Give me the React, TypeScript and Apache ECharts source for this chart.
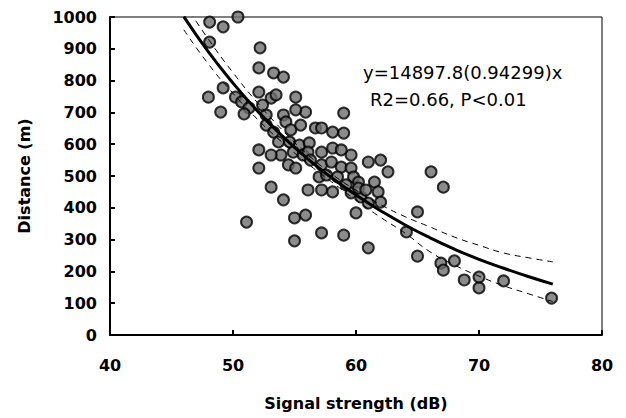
import React, { useEffect, useRef } from "react";
import * as echarts from "echarts";

// Observed points: [signal strength (dB), distance (m)]
const signalDb: number[] = [
  48.1, 49.2, 50.4, 48.1, 52.2, 52.1, 53.3, 54.1, 49.2, 48.0,
  49.0, 50.2, 50.7, 51.3, 52.1, 53.1, 53.5, 55.1, 55.9, 54.1,
  54.3, 52.7, 52.7, 53.3, 53.7, 54.6, 55.4, 56.2, 53.9, 54.9,
  55.7, 54.5, 55.1, 52.1, 53.1, 52.1, 53.1, 56.7, 59.0, 57.2,
  58.1, 59.0, 56.1, 57.2, 58.1, 59.6, 61.0, 62.0, 62.6, 57.2,
  58.0, 58.8, 59.6, 57.0, 58.5, 59.8, 60.2, 61.5, 61.8, 56.1,
  57.2, 58.1, 59.6, 60.4, 61.0, 62.0, 60.2, 60.0, 54.1, 51.1,
  55.0, 55.9, 55.0, 57.2, 59.0, 61.0, 65.0, 64.1, 65.0, 66.1,
  67.1, 66.9, 67.1, 68.0, 68.8, 70.0, 70.0, 72.0, 75.9, 50.9,
  52.4, 54.7, 55.5, 56.3, 57.6, 59.2, 60.8, 58.8, 55.1,
];
const distanceM: number[] = [
  984, 969, 1000, 921, 903, 840, 824, 811, 777, 748,
  701, 748, 733, 714, 764, 745, 755, 748, 701, 692,
  670, 692, 660, 638, 607, 607, 597, 604, 566, 575,
  566, 535, 525, 582, 566, 525, 465, 651, 698, 651,
  638, 635, 575, 575, 588, 566, 544, 550, 513, 535,
  544, 528, 525, 497, 497, 497, 481, 481, 450, 456,
  456, 450, 447, 434, 415, 418, 462, 384, 425, 355,
  368, 377, 296, 321, 314, 274, 387, 324, 248, 513,
  465, 226, 204, 233, 173, 182, 148, 170, 116, 695,
  723, 645, 660, 550, 503, 472, 456, 582, 708,
];

// Regression curve y = 14897.8(0.94299)^x and its band, read at these x values
const curveX: number[] = [46, 48, 50, 52, 54, 56, 58, 60, 62, 64, 66, 68, 70, 72, 74, 76];
const fitY: number[] = [1001, 890, 792, 704, 626, 556, 495, 440, 391, 346, 306, 270, 238, 210, 184, 160];
const upperY: number[] = [1045, 930, 825, 730, 645, 570, 507, 455, 410, 372, 340, 308, 282, 258, 243, 230];
const lowerY: number[] = [960, 852, 760, 678, 606, 541, 482, 424, 370, 320, 262, 220, 185, 155, 130, 105];

const eqLine1 = "y=14897.8(0.94299)x";
const eqLine2 = "R2=0.66, P<0.01";

export default function App() {
  const ref = useRef<HTMLDivElement>(null);
  useEffect(() => {
    if (!ref.current) return;
    const chart = echarts.init(ref.current, null, { renderer: "svg" });
    const font = "DejaVu Sans";
    const pts = signalDb.map((x, i) => [x, distanceM[i]]);
    const pair = (ys: number[]) => curveX.map((x, i) => [x, ys[i]]);
    chart.setOption({
      animation: false,
      backgroundColor: "#fff",
      grid: {
        left: 102,
        right: 24,
        top: 9,
        bottom: 83,
        containLabel: false,
        outerBoundsMode: "none",
        show: true,
        borderColor: "#000",
        borderWidth: 1,
      },
      xAxis: {
        type: "value",
        min: 40,
        max: 80,
        interval: 10,
        name: "Signal strength (dB)",
        nameLocation: "middle",
        nameGap: 60,
        nameTextStyle: { fontFamily: font, fontWeight: "bold", fontSize: 16, color: "#000" },
        axisLine: { lineStyle: { color: "#000", width: 2 } },
        axisTick: { inside: true, length: 5, lineStyle: { color: "#000", width: 2 } },
        axisLabel: { margin: 22, fontFamily: font, fontWeight: "bold", fontSize: 16, color: "#000" },
        splitLine: { show: false },
      },
      yAxis: {
        type: "value",
        min: 0,
        max: 1000,
        interval: 100,
        name: "Distance (m)",
        nameLocation: "middle",
        nameGap: 78,
        nameRotate: 90,
        nameTextStyle: { fontFamily: font, fontWeight: "bold", fontSize: 16, color: "#000" },
        axisLine: { show: true, lineStyle: { color: "#000", width: 2 } },
        axisTick: { show: true, inside: true, length: 5, lineStyle: { color: "#000", width: 2 } },
        axisLabel: {
          margin: 13,
          fontFamily: font,
          fontWeight: "bold",
          fontSize: 16,
          color: "#000",
          formatter: (v: number) => String(v),
        },
        splitLine: { show: false },
      },
      series: [
        {
          type: "scatter",
          data: pts,
          symbol: "circle",
          symbolSize: 11,
          itemStyle: { color: "#6e6e6e", borderColor: "#000", borderWidth: 2 },
          z: 2,
        },
        {
          type: "line",
          data: pair(fitY),
          smooth: true,
          showSymbol: false,
          symbol: "none",
          lineStyle: { color: "#000", width: 3 },
          z: 4,
        },
        {
          type: "line",
          data: pair(upperY),
          smooth: true,
          symbol: "none",
          lineStyle: { color: "#000", width: 1, type: [6, 5] },
          z: 3,
        },
        {
          type: "line",
          data: pair(lowerY),
          smooth: true,
          symbol: "none",
          lineStyle: { color: "#000", width: 1, type: [6, 5] },
          z: 3,
        },
      ],
      graphic: [
        {
          type: "text",
          left: 355,
          top: 55,
          style: { text: eqLine1, fontFamily: font, fontSize: 18, fill: "#000" },
        },
        {
          type: "text",
          left: 362,
          top: 82,
          style: { text: eqLine2, fontFamily: font, fontSize: 18, fill: "#000" },
        },
      ],
    });
    return () => chart.dispose();
  }, []);
  return <div ref={ref} style={{ width: 618, height: 410 }} />;
}
